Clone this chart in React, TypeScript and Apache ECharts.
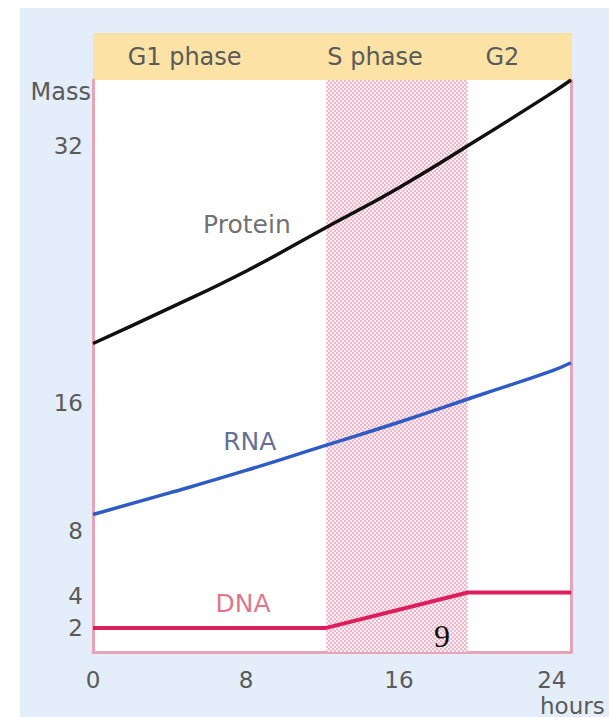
import React, { useEffect, useRef } from "react";
import * as echarts from "echarts";

// hours and masses
const hours = [0, 4, 8, 12, 16, 20, 24, 25];
const protein = [19.7, 21.9, 24.2, 26.8, 29.4, 32.3, 35.3, 36.1];
const rna = [9.06, 10.4, 11.8, 13.3, 14.8, 16.4, 18.0, 18.5];
const dnaHours = [0, 12.2, 19.6, 25];
const dna = [2.0, 2.0, 4.2, 4.2];

const yTicks = [2, 4, 8, 16, 32];
const xTicks = [0, 8, 16, 24];

const phaseNames = ["G1 phase", "S phase", "G2"];
const phaseStarts = [0, 12.2, 19.6];
const phaseEnds = [12.2, 19.6, 25];

const seriesLabels = ["Protein", "RNA", "DNA"];
const labelHours = [8.05, 8.2, 7.85];
const labelMass = [27.1, 13.6, 3.5];

const FONT = "DejaVu Sans";

const STIPPLE =
  "data:image/svg+xml;utf8," +
  encodeURIComponent(
    "<svg xmlns='http://www.w3.org/2000/svg' width='4' height='4'>" +
      "<rect width='4' height='4' fill='#fdeef3'/>" +
      "<rect x='0' y='0' width='2' height='2' fill='#efb7ca'/>" +
      "<rect x='2' y='2' width='2' height='2' fill='#efb7ca'/>" +
      "</svg>"
  );

export default function App() {
  const ref = useRef<HTMLDivElement>(null);
  useEffect(() => {
    if (!ref.current) return;
    const chart = echarts.init(ref.current, undefined, { renderer: "svg" });
    const pair = (xs: number[], ys: number[]) => xs.map((x, i) => [x, ys[i]]);
    const labelOffsets = [[-25, 0], [-22, 0], [-17, 0]];
    const labelColors = ["#4a4a4a", "#3b4878", "#d8506c"];
    const option: any = {
      animation: false,
      backgroundColor: "#ffffff",
      textStyle: { fontFamily: FONT },
      graphic: [
        { type: "rect", z: -10, silent: true, shape: { x: 20, y: 8, width: 589, height: 709 }, style: { fill: "#e4eefa" } },
        { type: "rect", z: -9, silent: true, shape: { x: 93, y: 33, width: 479, height: 47 }, style: { fill: "#fde2a5" } },
        {
          type: "text", z: 100, x: 442, y: 636,
          style: { text: "9", font: '32px "Liberation Serif"', fill: "#111", align: "center", verticalAlign: "middle" },
        },
      ],
      grid: { left: 93, right: 38, top: 80, bottom: 62, show: true, backgroundColor: "#ffffff", borderWidth: 0 },
      xAxis: {
        type: "value", min: 0, max: 25,
        axisLine: { show: true, onZero: false, lineStyle: { color: "#e9a3b6", width: 3 } },
        axisTick: { show: false },
        splitLine: { show: false },
        axisLabel: { customValues: xTicks, color: "#5a5a5a", fontSize: 23, fontFamily: FONT, margin: 16 },
        name: "hours", nameLocation: "end", nameGap: -31,
        nameTextStyle: { color: "#5a5a5a", fontSize: 23, fontFamily: FONT, verticalAlign: "top", align: "left", padding: [42, 0, 0, 0] },
      },
      yAxis: [
        {
          type: "value", min: 0.5, max: 36.1,
          axisLine: { show: true, onZero: false, lineStyle: { color: "#e9a3b6", width: 3 } },
          axisTick: { show: false },
          splitLine: { show: false },
          axisLabel: { customValues: yTicks, color: "#5a5a5a", fontSize: 23, fontFamily: FONT, margin: 10 },
          name: "Mass", nameLocation: "end", nameGap: -12,
          nameTextStyle: { color: "#5a5a5a", fontSize: 24, fontFamily: FONT, align: "right", verticalAlign: "middle", padding: [0, 2, 0, 0] },
        },
        {
          type: "value", min: 0.5, max: 36.1, position: "right",
          axisLine: { show: true, onZero: false, lineStyle: { color: "#e9a3b6", width: 3 } },
          axisTick: { show: false }, axisLabel: { show: false }, splitLine: { show: false },
        },
      ],
      series: [
        {
          type: "line", name: "Phases", data: [], silent: true,
          markArea: {
            silent: true,
            data: phaseNames.map((n, i) => [
              {
                name: n, xAxis: phaseStarts[i],
                itemStyle: i === 1
                  ? { color: { image: STIPPLE, repeat: "repeat", imageWidth: 4, imageHeight: 4 } }
                  : { color: "rgba(0,0,0,0)" },
                label: {
                  show: true, position: "top", distance: 11, offset: labelOffsets[i],
                  color: "#5a5a5a", fontSize: 24, fontFamily: FONT,
                },
              },
              { xAxis: phaseEnds[i] },
            ]),
          },
        },
        {
          type: "line", name: "Protein", smooth: true, showSymbol: false,
          data: pair(hours, protein), lineStyle: { color: "#111111", width: 3.5 },
        },
        {
          type: "line", name: "RNA", smooth: true, showSymbol: false,
          data: pair(hours, rna), lineStyle: { color: "#2f5cc4", width: 3.5 },
        },
        {
          type: "line", name: "DNA", smooth: false, showSymbol: false,
          data: pair(dnaHours, dna), lineStyle: { color: "#dc1f5c", width: 4 },
        },
        {
          type: "scatter", name: "Labels", silent: true, symbolSize: 1,
          itemStyle: { color: "rgba(0,0,0,0)" },
          data: seriesLabels.map((n, i) => ({
            name: n, value: [labelHours[i], labelMass[i]],
            label: { show: true, position: "inside", formatter: n, color: labelColors[i], fontSize: 25, fontFamily: FONT },
          })),
        },
      ],
    };
    chart.setOption(option);
    return () => chart.dispose();
  }, []);
  return (
    <div
      ref={ref}
      style={{ position: "absolute", left: 0, top: 0, width: 609, height: 717 }}
    />
  );
}
